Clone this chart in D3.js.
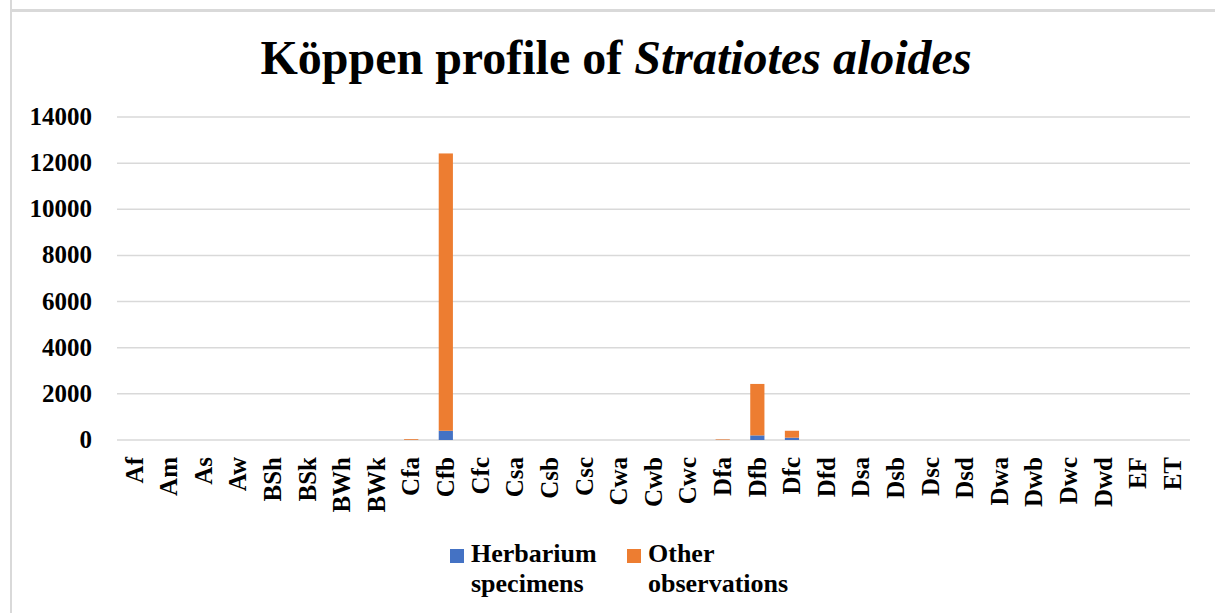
<!DOCTYPE html>
<html>
<head>
<meta charset="utf-8">
<script src="https://cdn.jsdelivr.net/npm/d3@7"></script>
<style>
  body { margin: 0; background: #fff; }
  svg text { font-family: "Liberation Serif", "Times New Roman", serif; font-weight: bold; fill: #000; }
</style>
</head>
<body>
<div id="chart"></div>
<script>
// Koppen climate classes
var categories = ["Af","Am","As","Aw","BSh","BSk","BWh","BWk","Cfa","Cfb","Cfc","Csa","Csb","Csc",
  "Cwa","Cwb","Cwc","Dfa","Dfb","Dfc","Dfd","Dsa","Dsb","Dsc","Dsd","Dwa","Dwb","Dwc","Dwd","EF","ET"];
var herbarium = [0,0,0,0,0,0,0,0,5,400,0,0,0,0,0,0,0,3,200,100,0,0,0,0,0,0,0,0,0,0,0];
var other     = [0,0,0,0,0,0,0,0,35,12020,0,0,0,0,0,0,0,25,2230,300,0,0,0,0,0,0,0,0,0,0,0];
var yTicks = [0,2000,4000,6000,8000,10000,12000,14000];
var seriesNames = ["Herbarium specimens","Other observations"];
var colors = ["#4472c4","#ed7d31"];

var serif = '"Liberation Serif", "Times New Roman", serif';
var width = 1215, height = 613;
var margin = {top: 117, right: 25, bottom: 173, left: 117};

var svg = d3.select("#chart").append("svg")
    .attr("width", width)
    .attr("height", height);

// chart frame edges (cropped)
svg.append("line").attr("x1", 11).attr("x2", 11).attr("y1", 0).attr("y2", height)
    .attr("stroke", "#d9d9d9").attr("stroke-width", 2);
svg.append("line").attr("x1", 11).attr("x2", width).attr("y1", 10.5).attr("y2", 10.5)
    .attr("stroke", "#d9d9d9").attr("stroke-width", 3);

var plotW = 1190 - margin.left;
var plotH = 440 - margin.top;

var x = d3.scaleBand().domain(categories).range([0, plotW]).paddingInner(0.59).paddingOuter(0.295);
var y = d3.scaleLinear().domain([0, 14000]).range([plotH, 0]);

var g = svg.append("g").attr("transform", "translate(" + margin.left + "," + margin.top + ")");

// gridlines
g.selectAll("line.grid").data(yTicks).enter().append("line")
    .attr("class", "grid")
    .attr("x1", 0).attr("x2", plotW)
    .attr("y1", function(d){ return y(d); })
    .attr("y2", function(d){ return y(d); })
    .attr("stroke", "#d9d9d9")
    .attr("stroke-width", 1.5);

// y axis labels
var yAxis = d3.axisLeft(y).tickValues(yTicks).tickFormat(d3.format("d")).tickSize(0).tickPadding(25);
var ya = g.append("g").call(yAxis).attr("font-family", serif);
ya.select(".domain").remove();
ya.selectAll("text")
    .style("font-size", "25px")
    .style("font-family", serif)
    .style("font-weight", "bold")
    .attr("dy", "0.3em");

// stacked bars
var table = categories.map(function(c, i){ return {cat: c, herb: herbarium[i], other: other[i]}; });
var stack = d3.stack().keys(["herb","other"])(table);

g.selectAll("g.layer").data(stack).enter().append("g")
    .attr("class", "layer")
    .attr("fill", function(d, i){ return colors[i]; })
  .selectAll("rect").data(function(d){ return d; }).enter().append("rect")
    .attr("x", function(d){ return x(d.data.cat); })
    .attr("width", x.bandwidth())
    .attr("y", function(d){ return y(d[1]); })
    .attr("height", function(d){ return Math.max(0, y(d[0]) - y(d[1])); });

// x axis labels
var xAxis = d3.axisBottom(x).tickSize(0).tickPadding(0);
var xa = g.append("g").attr("transform", "translate(0," + plotH + ")").call(xAxis).attr("font-family", serif);
xa.select(".domain").remove();
xa.selectAll("text")
    .style("font-size", "25px")
    .style("font-family", serif)
    .style("font-weight", "bold")
    .attr("text-anchor", "end")
    .attr("transform", "rotate(-90)")
    .attr("x", -17)
    .attr("y", 0)
    .attr("dy", "0.33em");

// title
var title = svg.append("text")
    .attr("x", 616).attr("y", 74)
    .attr("text-anchor", "middle")
    .style("font-family", serif)
    .style("font-size", "48px");
title.append("tspan").text("Köppen profile of ");
title.append("tspan").style("font-style", "italic").text("Stratiotes aloides");

// legend
var legendX = [450, 627];
var legend = svg.selectAll("g.legend").data(seriesNames).enter().append("g")
    .attr("class", "legend")
    .attr("transform", function(d, i){ return "translate(" + legendX[i] + ",549)"; });
legend.append("rect").attr("width", 14).attr("height", 14)
    .attr("fill", function(d, i){ return colors[i]; });
legend.each(function(d){
    var words = d.split(" ");
    var t = d3.select(this).append("text")
        .style("font-family", serif)
        .style("font-weight", "bold")
        .style("font-size", "26px");
    words.forEach(function(w, j){
        t.append("tspan").attr("x", 21).attr("y", 13 + j * 30).text(w);
    });
});
</script>
</body>
</html>
